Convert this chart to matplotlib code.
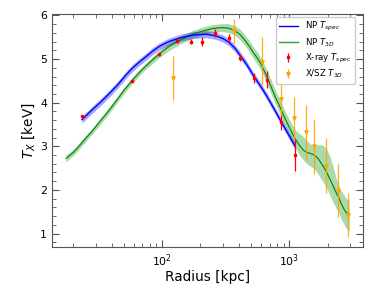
import numpy as np
import matplotlib
matplotlib.use("Agg")
import matplotlib.pyplot as plt

# NP T_spec model (blue) with band
r_spec = [23.4, 28, 33.3, 39, 45, 51, 57.7, 66, 75, 84, 93.7, 104, 115, 127, 140, 157, 175, 197, 220,
          245, 270, 300, 333, 370, 409, 465, 524, 590, 664, 750, 855, 975, 1110]
t_spec = [3.61, 3.83, 4.03, 4.23, 4.42, 4.61, 4.78, 4.93, 5.06, 5.18, 5.28, 5.35, 5.41, 5.45, 5.49, 5.52,
          5.55, 5.56, 5.57, 5.55, 5.52, 5.47, 5.39, 5.26, 5.09, 4.86, 4.61, 4.39, 4.15, 3.88, 3.58, 3.29, 3.00]
t_spec_err = 0.08

# NP T_3D model (green) with band
r_3d = [17.5, 20, 22, 25, 28.6, 32, 36, 40, 43.7, 50, 57.7, 66, 75, 84, 93.7, 104, 115, 127, 140, 157,
        175, 197, 220, 250, 290, 330, 369, 410, 450, 485, 520, 560, 600, 650, 700, 770, 855, 930, 1000,
        1100, 1200, 1290, 1370, 1450, 1550, 1620, 1700, 1820, 1960, 2080, 2200, 2310, 2430, 2560, 2700,
        2800, 2880, 2950]
t_3d = [2.72, 2.86, 2.99, 3.18, 3.37, 3.55, 3.73, 3.90, 4.05, 4.28, 4.50, 4.69, 4.85, 4.98, 5.10, 5.21,
        5.30, 5.37, 5.44, 5.51, 5.57, 5.62, 5.66, 5.70, 5.72, 5.71, 5.66, 5.56, 5.42, 5.29, 5.15, 5.02,
        4.88, 4.66, 4.44, 4.15, 3.86, 3.62, 3.43, 3.19, 3.02, 2.91, 2.86, 2.84, 2.81, 2.77, 2.70, 2.57,
        2.41, 2.25, 2.10, 1.96, 1.84, 1.68, 1.55, 1.48, 1.46, 1.46]
t_3d_lo = [2.64, 2.79, 2.92, 3.11, 3.30, 3.48, 3.66, 3.83, 3.98, 4.21, 4.43, 4.62, 4.78, 4.90, 5.02,
           5.12, 5.21, 5.28, 5.35, 5.42, 5.48, 5.53, 5.57, 5.61, 5.63, 5.61, 5.55, 5.44, 5.30, 5.16,
           5.02, 4.88, 4.74, 4.51, 4.28, 3.99, 3.70, 3.45, 3.25, 2.99, 2.80, 2.68, 2.60, 2.55, 2.50,
           2.43, 2.34, 2.20, 2.05, 1.88, 1.72, 1.60, 1.49, 1.33, 1.20, 1.12, 1.09, 1.06]
t_3d_hi = [2.80, 2.93, 3.06, 3.25, 3.44, 3.62, 3.80, 3.97, 4.12, 4.35, 4.57, 4.76, 4.92, 5.06, 5.18,
           5.30, 5.39, 5.46, 5.53, 5.60, 5.66, 5.71, 5.75, 5.79, 5.81, 5.81, 5.77, 5.68, 5.54, 5.42,
           5.28, 5.16, 5.02, 4.81, 4.60, 4.31, 4.02, 3.79, 3.61, 3.39, 3.29, 3.22, 3.12, 3.06, 3.02,
           3.03, 3.04, 3.03, 2.95, 2.77, 2.55, 2.31, 2.12, 1.97, 1.88, 1.80, 1.78, 1.76]

# X-ray T_spec data (red)
r_xray = [23.4, 57.7, 93.7, 130.6, 167, 204, 260, 333, 409, 524, 664, 855, 1114]
t_xray = [3.69, 4.50, 5.11, 5.42, 5.40, 5.40, 5.60, 5.48, 5.03, 4.57, 4.53, 3.55, 2.79]
t_xray_err = [0.03, 0.03, 0.03, 0.05, 0.05, 0.10, 0.09, 0.10, 0.08, 0.12, 0.20, 0.18, 0.35]

# X/SZ T_3D data (orange)
r_xsz = [122, 369, 613, 855, 1094, 1343, 1570, 1937, 2423, 2880]
t_xsz = [4.57, 5.64, 4.94, 4.09, 3.64, 3.32, 3.00, 2.56, 1.98, 1.43]
t_xsz_err = [0.50, 0.27, 0.56, 0.40, 0.50, 0.63, 0.63, 0.64, 0.61, 0.50]

fig = plt.figure(figsize=(3.74, 2.88), dpi=100)
ax = fig.add_axes([0.139, 0.142, 0.832, 0.809])

ax.fill_between(r_3d, t_3d_lo, t_3d_hi, color="tab:green", alpha=0.4, lw=0)
ax.plot(r_3d, t_3d, color="green", lw=0.8)
ax.fill_between(r_spec, np.array(t_spec) - t_spec_err, np.array(t_spec) + t_spec_err,
                color="blue", alpha=0.35, lw=0)
ax.plot(r_spec, t_spec, color="blue", lw=1.0)

ax.errorbar(r_xray, t_xray, yerr=t_xray_err, fmt="s", color="red", ms=1.8,
            elinewidth=0.9, capsize=0)
ax.errorbar(r_xsz, t_xsz, yerr=t_xsz_err, fmt="v", color="orange", ms=2.5,
            elinewidth=0.9, capsize=0, alpha=0.9)

# legend handles
h1, = ax.plot([], [], color="blue", lw=1.0, label=r"NP $T_{spec}$")
h2, = ax.plot([], [], color="tab:green", lw=1.0, label=r"NP $T_{3D}$")
h3 = ax.errorbar([], [], yerr=[], fmt="s", color="red", ms=1.8, elinewidth=0.9,
                 label=r"X-ray $T_{spec}$")
h4 = ax.errorbar([], [], yerr=[], fmt="v", color="orange", ms=2.5, elinewidth=0.9,
                 label=r"X/SZ $T_{3D}$")
leg = ax.legend(handles=[h1, h2, h3, h4], loc="upper right", bbox_to_anchor=(0.988, 1.008),
                fontsize=6.2, labelspacing=0.35, handlelength=2.2, borderpad=0.4,
                fancybox=True, framealpha=1)

ax.set_xscale("log")
ax.set_xlim(13.6, 3800)
ax.set_ylim(0.69, 6.03)
ax.set_yticks([1, 2, 3, 4, 5, 6])
ax.yaxis.set_minor_locator(matplotlib.ticker.MultipleLocator(0.2))

ax.tick_params(which="both", direction="in", top=True, right=True, colors="#555555",
               labelcolor="black", labelsize=7.8)
ax.tick_params(which="major", length=5, width=0.8)
ax.tick_params(which="minor", length=3, width=0.6)
for s in ax.spines.values():
    s.set_color("#555555")

ax.set_xlabel("Radius [kpc]", fontsize=9.8, labelpad=1)
ax.set_ylabel(r"$T_X$ [keV]", fontsize=9.8, labelpad=2)

fig.savefig("out.png", dpi=100)
